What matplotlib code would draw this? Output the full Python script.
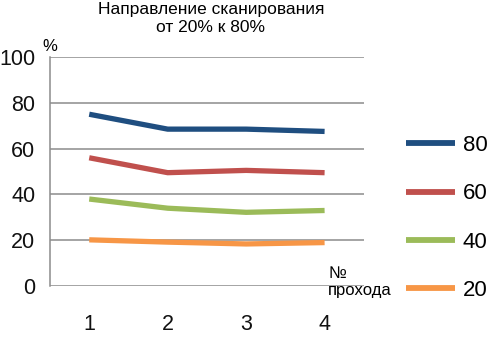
import matplotlib.pyplot as plt

plt.rcParams['font.family'] = ['Liberation Sans', 'DejaVu Sans']

passes = ['1', '2', '3', '4']
s80 = [75, 68.5, 68.5, 67.5]
s60 = [56, 49.5, 50.5, 49.5]
s40 = [38, 34, 32.2, 33]
s20 = [20.2, 19.2, 18.4, 19]
series_labels = ['80', '60', '40', '20']
colors = ['#1F4E80', '#C0504D', '#9BBB59', '#F79646']

fig = plt.figure(figsize=(4.95, 3.39), dpi=100)
ax = fig.add_axes([0.101, 0.156, 0.634, 0.676])

x = list(range(1, len(passes) + 1))
handles = []
for vals, col, lab in zip([s80, s60, s40, s20], colors, series_labels):
    ln, = ax.plot(x, vals, color=col, lw=3.8, solid_capstyle='butt', label=lab)
    handles.append(ln)

ax.set_xlim(0.5, 4.5)
ax.set_ylim(0, 100)
ax.set_yticks(range(0, 101, 20))
ax.set_xticks(x)
ax.set_xticklabels(passes)
ax.tick_params(axis='both', length=0, labelsize=15.5, colors='#111111')
ax.tick_params(axis='y', pad=10.5)
ax.tick_params(axis='x', pad=20)
ax.yaxis.grid(True, color='#8c8c8c', lw=1.1)
ax.set_axisbelow(True)
for sp in ['top', 'right', 'bottom']:
    ax.spines[sp].set_visible(False)
ax.spines['left'].set_color('#8c8c8c')
ax.spines['left'].set_linewidth(1.1)

ax.text(-0.025, 1.015, '%', transform=ax.transAxes, fontsize=12, ha='left', va='bottom')
ax.text(328 / 495, 1 - 282 / 339, '№\nпрохода', transform=fig.transFigure,
        fontsize=12, ha='left', va='center', linespacing=1.15)

fig.text(0.426, 0.995, 'Направление сканирования\nот 20% к 80%', fontsize=12.5,
         ha='center', va='top', linespacing=1.3)

leg = fig.legend(handles=handles, labels=series_labels, loc='center left',
                 bbox_to_anchor=(0.78, 0.357), frameon=False, fontsize=16,
                 handlelength=2.2, handletextpad=0.35, labelspacing=1.23)
for h in leg.get_lines():
    h.set_linewidth(4.2)

fig.savefig('out.png', dpi=100)
